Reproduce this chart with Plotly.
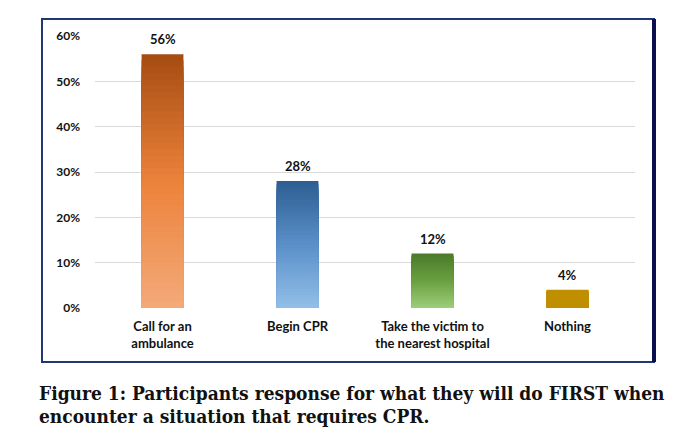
import plotly.graph_objects as go

categories = ["Call for an<br>ambulance", "Begin CPR", "Take the victim to<br>the nearest hospital", "Nothing"]
values = [0.56, 0.28, 0.12, 0.04]
value_labels = ["56%", "28%", "12%", "4%"]
tick_vals = [0, 0.1, 0.2, 0.3, 0.4, 0.5, 0.6]
tick_text = ["0%", "10%", "20%", "30%", "40%", "50%", "60%"]
top_colors = ["#A54C12", "#2D5E92", "#4A7A2A", "#BF8F00"]
mid_colors = ["#EC823A", "#5A8FC8", "#6AA040", "#BF8F00"]
bottom_colors = ["#F3AA7A", "#92BFE8", "#9CCE7A", "#BF8F00"]

W, H = 695, 440
OFF = 8  # page body margin
L, R, T, B = 95 - OFF, W - (635 - OFF), 36 - OFF, H - (308 - OFF)
PW, PH = W - L - R, H - T - B
N = 40

def px_x(x):
    return (x - OFF - L) / PW

def px_y(y):
    return (H - B - (y - OFF)) / PH

def hex2rgb(h):
    h = h.lstrip("#")
    return tuple(int(h[i:i + 2], 16) for i in (0, 2, 4))

def mix(c1, c2, t):
    a, b = hex2rgb(c1), hex2rgb(c2)
    return "rgb(%d,%d,%d)" % tuple(round(a[i] + (b[i] - a[i]) * t) for i in range(3))

def grad(i, t):
    if t < 0.5:
        return mix(bottom_colors[i], mid_colors[i], t / 0.5)
    return mix(mid_colors[i], top_colors[i], (t - 0.5) / 0.5)

fig = go.Figure()
for k in range(N):
    frac = (N - k) / N  # height fraction of this layer, tallest first
    t = (N - k - 0.5) / N
    fig.add_trace(go.Bar(
        x=categories,
        y=[v * frac for v in values],
        marker=dict(color=[grad(i, t) for i in range(len(values))], line=dict(width=0)),
        width=0.31,
        hoverinfo="skip",
        showlegend=False,
    ))

for cat, v, lab in zip(categories, values, value_labels):
    fig.add_annotation(x=cat, y=v, text=lab, showarrow=False, yanchor="bottom", yshift=5,
                       font=dict(family="Lato", size=13, color="#111111", weight="bold"))

fig.update_layout(
    width=W, height=H,
    barmode="overlay",
    margin=dict(l=L, r=R, t=T, b=B),
    paper_bgcolor="white", plot_bgcolor="white",
    font=dict(family="Lato", size=12, color="#111111"),
    xaxis=dict(range=[-0.5, 3.5], showgrid=False, zeroline=False, showline=False,
               ticks="", ticklabelstandoff=9,
               tickfont=dict(family="Lato", size=13, color="#111111", weight="bold")),
    yaxis=dict(range=[0, 0.6], tickvals=tick_vals, ticktext=tick_text, showgrid=True,
               gridcolor="#D9D9D9", gridwidth=1, zeroline=False, showline=False,
               ticks="", ticklabelstandoff=14,
               tickfont=dict(family="Lato", size=12, color="#111111", weight="bold")),
)

# frame around the chart
fig.add_shape(type="rect", xref="paper", yref="paper",
              x0=px_x(42), x1=px_x(654), y0=px_y(362), y1=px_y(19),
              line=dict(color="#1F3872", width=2), layer="above")
fig.add_shape(type="line", xref="paper", yref="paper",
              x0=px_x(654), x1=px_x(654), y0=px_y(362), y1=px_y(19),
              line=dict(color="#0B0F4F", width=4), layer="above")

caption_lines = ["Figure 1: Participants response for what they will do FIRST when",
                 "encounter a situation that requires CPR."]
for j, line in enumerate(caption_lines):
    fig.add_annotation(xref="paper", yref="paper", x=px_x(37), y=px_y(393 + 23 * j),
                       xanchor="left", yanchor="middle", align="left", showarrow=False,
                       text="<b>" + line + "</b>",
                       font=dict(family="DejaVu Serif Condensed, Liberation Serif", size=19, color="#111111"))

fig.write_html("out.html")
